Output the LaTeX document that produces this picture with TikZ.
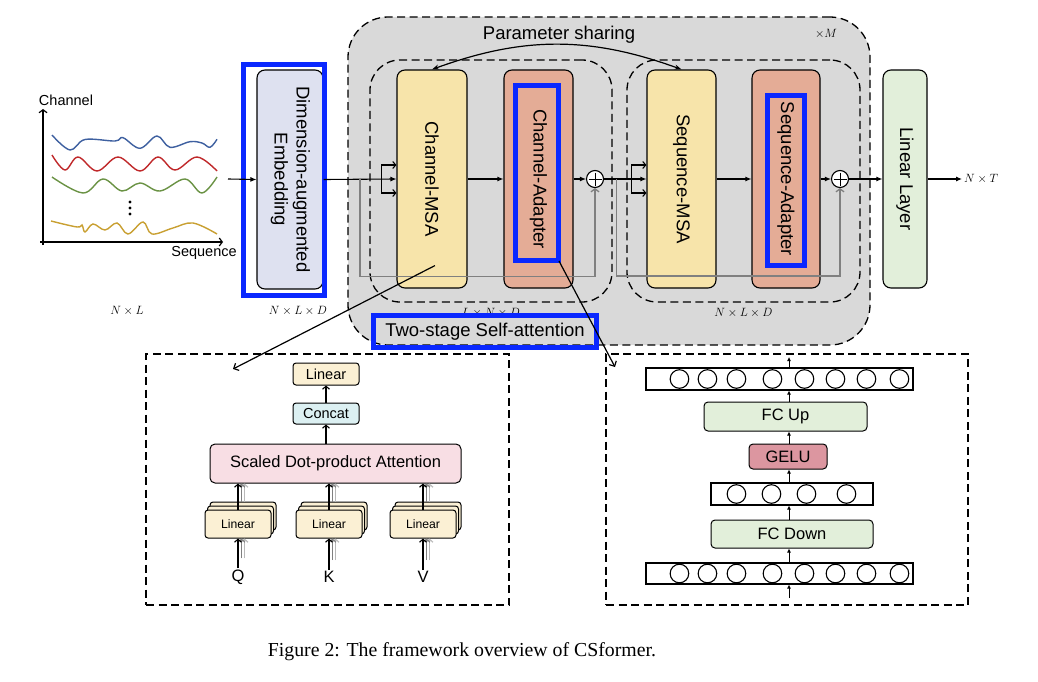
\documentclass[tikz,border=0pt]{standalone}
\usepackage{fontspec}
\setmainfont{Liberation Sans}
\newfontfamily\capfont{Liberation Serif}
\usetikzlibrary{arrows.meta,positioning,calc}

\definecolor{stackgray}{HTML}{D9D9D9}
\definecolor{msafill}{HTML}{F7E4AA}
\definecolor{adapterfill}{HTML}{E4AC96}
\definecolor{embfill}{HTML}{DEE1F0}
\definecolor{linfill}{HTML}{E2EFDA}
\definecolor{hlblue}{HTML}{0A28FF}
\definecolor{creamfill}{HTML}{FBF0D4}
\definecolor{concatfill}{HTML}{DCF0F2}
\definecolor{attnfill}{HTML}{F8DEE4}
\definecolor{gelufill}{HTML}{DC96A0}
\definecolor{waveblue}{HTML}{3E60A0}
\definecolor{wavered}{HTML}{C0282A}
\definecolor{wavegreen}{HTML}{6A9244}
\definecolor{waveyellow}{HTML}{C9A032}

\newcommand{\fsbig}{\fontsize{18.5}{22}\selectfont}
\newcommand{\fsmid}{\fontsize{16.5}{19}\selectfont}
\newcommand{\fssmall}{\fontsize{14.5}{17}\selectfont}
\newcommand{\fstiny}{\fontsize{12.2}{14}\selectfont}
\newcommand{\fsmath}{\fontsize{12.5}{14}\selectfont}

\tikzset{
    block/.style = {
        draw, rounded corners=8pt, line width=1.1pt, inner sep=0pt,
        minimum height=218pt, font=\fsbig,
        },
    msa/.style = {
        block, fill=msafill, minimum width=70pt,
        },
    adapter/.style = {
        block, fill=adapterfill, minimum width=69pt,
        },
    highlight/.style = {
        draw=hlblue, line width=5pt, inner sep=0pt,
        },
    dashline/.style = {
        line width=1.3pt, dash pattern=on 8pt off 4.5pt,
        },
    stack/.style = {
        draw, dashline, fill=stackgray, rounded corners=40pt,
        },
    stage/.style = {
        draw, dashline, rounded corners=30pt,
        },
    detail/.style = {
        draw, dashline,
        },
    adder/.style = {
        draw, circle, fill=white, minimum size=17pt, inner sep=0pt, line width=1.1pt,
        path picture={\draw[line width=1pt]
            ([yshift=-2pt]path picture bounding box.north) -- ([yshift=2pt]path picture bounding box.south)
            ([xshift=2pt]path picture bounding box.west) -- ([xshift=-2pt]path picture bounding box.east);},
        },
    dimlabel/.style = {
        font=\fsmath, inner sep=0pt,
        },
    flow/.style = {
        line width=1.1pt, -{Latex[length=6pt,width=5pt]},
        },
    opn/.style = {
        line width=1.1pt, -{Straight Barb[length=3pt,width=7pt]},
        },
    res/.style = {
        draw=gray, line width=1.3pt, -{Straight Barb[length=3pt,width=8pt]},
        },
    ghost a/.style = {
        draw=gray,
        },
    ghost b/.style = {
        draw=gray!55,
        },
    tiny/.style = {
        line width=1pt, -{Latex[length=4pt,width=4pt]},
        },
    wave/.style = {
        line width=1.4pt,
        },
    small box/.style = {
        draw, rounded corners=3pt, line width=1pt, inner sep=0pt,
        },
    lin small/.style = {
        small box, fill=creamfill, minimum width=66pt, minimum height=28pt, font=\fstiny,
        },
    fc/.style = {
        small box, rounded corners=4pt, fill=linfill, minimum height=29pt, font=\fsmid,
        },
    bar/.style = {
        draw, line width=1.1pt, fill=white, minimum height=22pt, inner sep=0pt,
        },
    neuron/.style = {
        draw, circle, line width=1.1pt, minimum size=18.6pt, inner sep=0pt,
        },
}

\begin{document}
\begin{tikzpicture}[x=1pt,y=-1pt]
    \useasboundingbox (0,0) rectangle (1038,682);
    \fill[white] (0,0) rectangle (1038,682);

    % input series
    \draw[line width=1.2pt, -{Straight Barb[length=3pt,width=8pt]}] (43,245) -- (43,109);
    \draw[line width=1.2pt, -{Straight Barb[length=3pt,width=8pt]}] (40,242) -- (223,242);
    \node[font=\fssmall, inner sep=0pt] (chan) at (66,100) {Channel};
    \node[font=\fssmall, inner sep=0pt] (seq) at (204,253) {Sequence};
    \draw[wave, waveblue] plot[smooth, tension=0.6] coordinates {(52,135) (70,150) (85,139.5) (115,141) (123,137.7) (140,148.3) (157,136) (170,147.3) (190,141.7) (202,143) (210,147.3) (217,139.3)};
    \draw[wave, wavered] plot[smooth, tension=0.6] coordinates {(52,155) (65,170) (78,157) (97,171) (118,157) (140,171) (158,157) (175,170) (197,157) (217,171)};
    \draw[wave, wavegreen] plot[smooth, tension=0.6] coordinates {(52,177) (83,193) (103,179) (122,191) (140,183) (160,191) (185,179) (202,193) (217,177)};
    \draw[wave, waveyellow] plot[smooth, tension=0.6] coordinates {(51,221) (77,227) (82,225) (85,232) (93,224) (105,230) (117,223) (128,234) (143,222) (152,234) (173,228) (193,223) (217,234)};
    \foreach \y in {202,208,214}
        \fill (130,\y) circle (1.7);
    \coordinate (sig) at (228,179);

    % embedding
    \node[block, fill=embfill, minimum width=66pt, minimum height=219pt] (emb) at (290,179.5)
        {\rotatebox{-90}{\begin{tabular}{c}Dimension-augmented\\Embedding\end{tabular}}};
    \node[highlight, minimum width=81pt, minimum height=231pt] (embhl) at (284,180) {};
    \node[dimlabel] at (127,311) {$N\times L$};
    \node[dimlabel] at (298,311) {$N\times L\times D$};

    % encoder stack
    \node[stack, minimum width=522pt, minimum height=328pt] (enc) at (609,181) {};
    \node[stage, minimum width=242pt, minimum height=242pt] (cstage) at (491,181) {};
    \node[stage, minimum width=233pt, minimum height=242pt] (sstage) at (743.5,181) {};
    \node[dimlabel] at (826,34) {$\times M$};
    \node[dimlabel, below=5pt of cstage] (cdim) {$L\times N\times D$};
    \node[dimlabel, below=5pt of sstage] (sdim) {$N\times L\times D$};
    \node[font=\fsbig, inner sep=0pt] (share) at (559,35) {Parameter sharing};

    \node[msa] (cmsa) at (432,179) {\rotatebox{-90}{Channel-MSA}};
    \node[adapter] (cad) at (538.5,179) {\rotatebox{-90}{Channel-Adapter}};
    \node[highlight, minimum width=43pt, minimum height=175pt] (cadhl) at (537,173) {};
    \node[adder] (p1) at (595,179) {};
    \node[msa, minimum width=69pt] (smsa) at (681.5,179) {\rotatebox{-90}{Sequence-MSA}};
    \node[adapter, minimum width=68pt] (sad) at (786,179) {\rotatebox{-90}{Sequence-Adapter}};
    \node[highlight, minimum width=37pt, minimum height=170pt] (sadhl) at (786,180.5) {};
    \node[adder] (p2) at (840,179) {};
    \node[block, fill=linfill, minimum width=44pt] (lin) at (905,179) {\rotatebox{-90}{Linear Layer}};
    \coordinate (out) at (962,179);
    \node[dimlabel, right=2pt of out] (outdim) {$N\times T$};

    \draw[flow] (sig) -- (emb.west);
    \draw[flow] (emb.east) -- (cmsa.west);
    \coordinate (br1) at ($(cmsa.west)+(-15,0)$);
    \draw[opn] (br1) |- ([yshift=14pt]cmsa.west);
    \draw[opn] (br1) |- ([yshift=-14pt]cmsa.west);
    \draw[flow] (cmsa.east) -- (cad.west);
    \draw[flow] (cad.east) -- (p1.west);
    \draw[flow] (p1.east) -- (smsa.west);
    \coordinate (br2) at ($(smsa.west)+(-15,0)$);
    \draw[opn] (br2) |- ([yshift=14pt]smsa.west);
    \draw[opn] (br2) |- ([yshift=-14pt]smsa.west);
    \draw[flow] (smsa.east) -- (sad.west);
    \draw[flow] (sad.east) -- (p2.west);
    \draw[flow] (p2.east) -- (lin.west);
    \draw[flow] (lin.east) -- (out);

    \coordinate (res1) at ($(emb.east)!0.5!(cmsa.west)$);
    \coordinate (res2) at ($(p1.east)!0.3!(smsa.west)$);
    \draw[res] (res1) -- ++(0,97) -| (p1.south);
    \draw[res] (res2) -- ++(0,97) -| (p2.south);

    \draw[line width=1.2pt, {Stealth[length=7pt,width=5pt]}-{Stealth[length=7pt,width=5pt]}]
        (cmsa.north) to[bend left=20] (smsa.north);

    \node[highlight, minimum width=223pt, minimum height=32pt, font=\fsbig] (tss) at (485,331.5) {Two-stage Self-attention};

    % multi-head attention detail
    \node[detail, minimum width=363pt, minimum height=251pt] (mhsa) at (327.5,479.5) {};
    \node[small box, fill=creamfill, minimum width=66pt, minimum height=22pt, font=\fssmall] (lout) at (326,374) {Linear};
    \node[small box, fill=concatfill, minimum width=66pt, minimum height=21pt, font=\fssmall] (concat) at (326,413.5) {Concat};
    \node[small box, rounded corners=5pt, fill=attnfill, minimum width=251pt, minimum height=39pt, font=\fsmid] (sdpa) at (335.5,463.5) {Scaled Dot-product Attention};
    \foreach \n/\x in {lq/238,lk/329,lv/423}{
        \node[lin small] at (\x+5,516) {};
        \node[lin small] at (\x+2.5,520) {};
        \node[lin small] (\n) at (\x,524) {Linear};
    }
    \node[font=\fsmid, inner sep=1pt] (q) at (238,577) {Q};
    \node[font=\fsmid, inner sep=1pt] (k) at (329,577) {K};
    \node[font=\fsmid, inner sep=1pt] (v) at (423,577) {V};
    \foreach \a/\b in {q/lq,k/lk,v/lv}{
        \coordinate (hit) at (\b.north |- sdpa.south);
        \draw[opn, ghost b] ([xshift=6.5pt,yshift=10pt]\a.north) -- ([xshift=6.5pt]\b.south);
        \draw[opn, ghost a] ([xshift=3.5pt,yshift=10pt]\a.north) -- ([xshift=3.5pt]\b.south);
        \draw[opn] (\a.north) -- (\b.south);
        \draw[opn, ghost b] ([xshift=6.5pt,yshift=8pt]\b.north) -- ([xshift=6.5pt]hit);
        \draw[opn, ghost a] ([xshift=3.5pt,yshift=8pt]\b.north) -- ([xshift=3.5pt]hit);
        \draw[opn] (\b.north) -- (hit);
    }
    \draw[opn] (sdpa.north -| concat.south) -- (concat.south);
    \draw[opn] (concat.north) -- (lout.south);

    % adapter detail
    \node[detail, minimum width=362pt, minimum height=251pt] (ffn) at (787,479.5) {};
    \node[bar, minimum width=267pt] (topbar) at (779.5,379) {};
    \node[fc, minimum width=163pt] (fcup) at (785.5,416.5) {FC Up};
    \node[small box, rounded corners=4pt, fill=gelufill, minimum width=78pt, minimum height=25pt, font=\fsmid] (gelu) at (788,456.5) {GELU};
    \node[bar, minimum width=162pt] (midbar) at (792,494) {};
    \node[fc, minimum width=162pt, minimum height=28pt] (fcdown) at (792,534) {FC Down};
    \node[bar, minimum width=267pt, minimum height=21pt] (botbar) at (779.5,573.5) {};
    \foreach \x in {34,62,91,127,159,190,221,254}{
        \node[neuron] at ([xshift=\x pt]topbar.west) {};
        \node[neuron] at ([xshift=\x pt]botbar.west) {};
    }
    \foreach \x in {26,61,96,136}
        \node[neuron] at ([xshift=\x pt]midbar.west) {};
    \coordinate (col) at (789,598);
    \coordinate (top) at (789,357);
    \draw[tiny] (col) -- (botbar.south -| col);
    \foreach \a/\b in {botbar/fcdown, fcdown/midbar, midbar/gelu, gelu/fcup, fcup/topbar}
        \draw[tiny] (\a.north -| col) -- (\b.south -| col);
    \draw[tiny] (topbar.north -| col) -- (top);

    % zoom arrows
    \coordinate (mhsain) at (233,369);
    \coordinate (ffnin) at (615,367);
    \draw[line width=1.2pt, -{Straight Barb[length=4pt,width=8pt]}] ([xshift=3pt,yshift=23pt]cmsa.south) -- (mhsain);
    \draw[line width=1.2pt, -{Straight Barb[length=4pt,width=8pt]}] ([xshift=-2pt,yshift=2pt]cadhl.south east) -- (ffnin);

    \node[font=\capfont\fontsize{19.8}{23}\selectfont, inner sep=0pt] (cap) at (462,652) {Figure 2: The framework overview of CSformer.};
\end{tikzpicture}
\end{document}
